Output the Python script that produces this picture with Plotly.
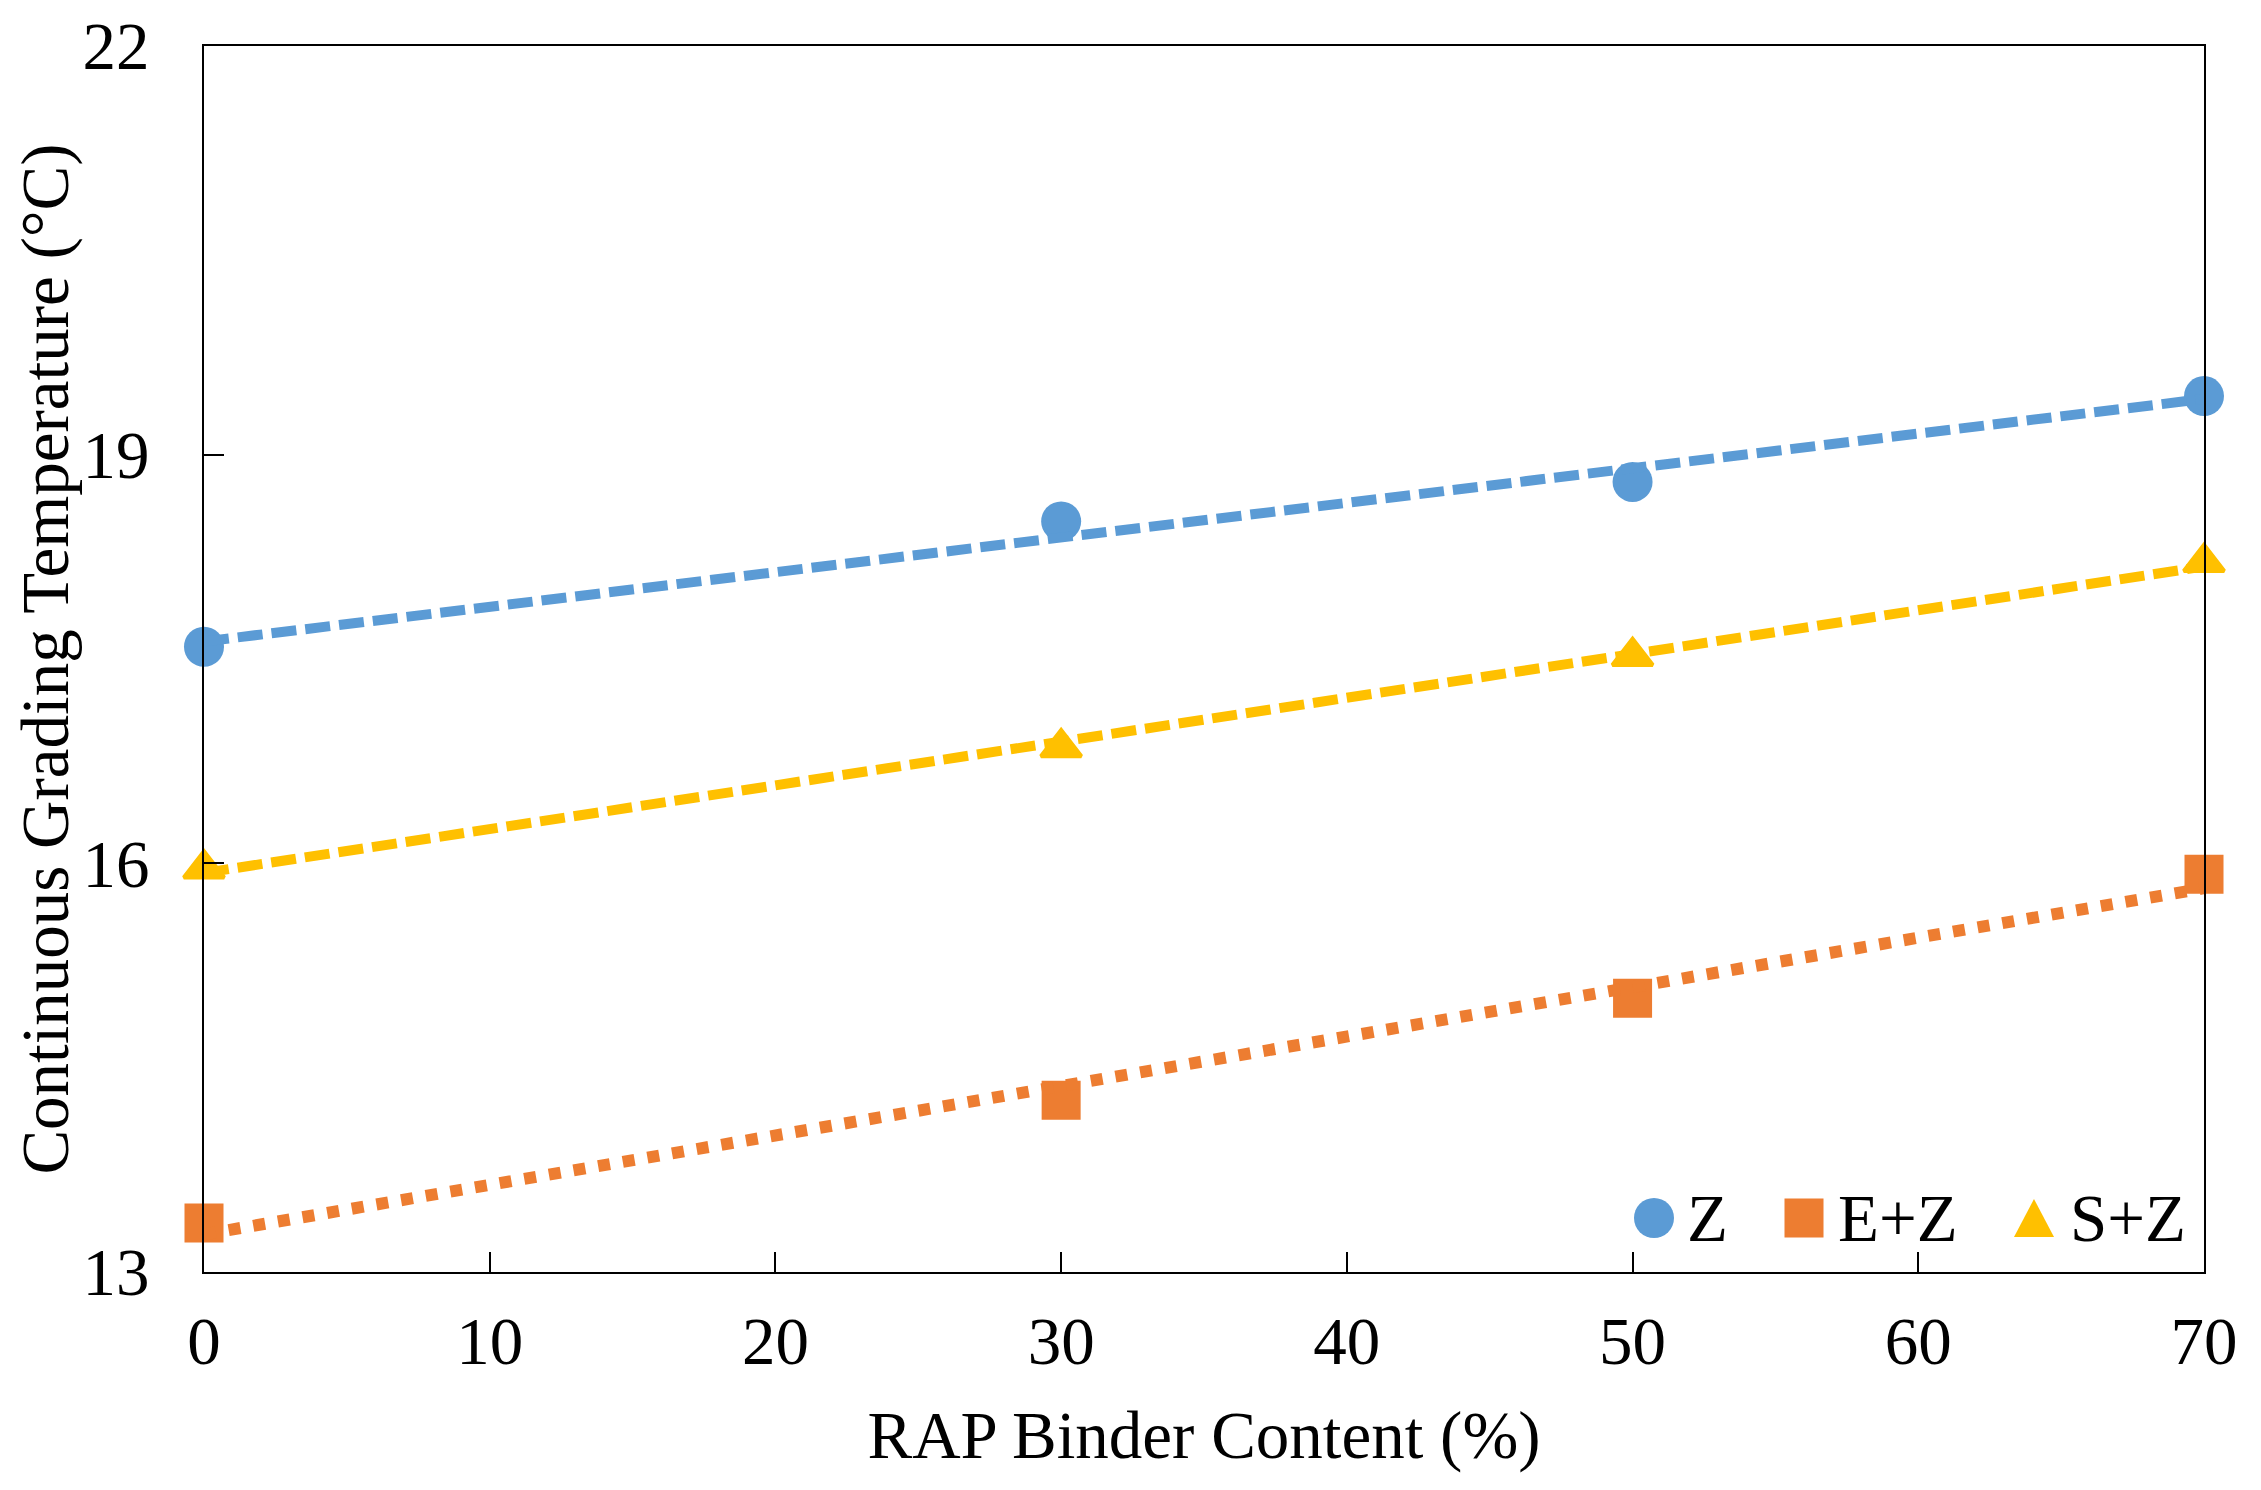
import numpy as np
import plotly.graph_objects as go

# ---- data ----
rap_content = [0, 30, 50, 70]
z_vals = [17.59, 18.51, 18.80, 19.43]
ez_vals = [13.36, 14.26, 15.01, 15.92]
sz_vals = [15.96, 16.85, 17.52, 18.21]
series_names = ["Z", "E+Z", "S+Z"]
x_ticks = [0, 10, 20, 30, 40, 50, 60, 70]
y_ticks = [13, 16, 19, 22]

BLUE = "#5B9BD5"
ORANGE = "#ED7D31"
YELLOW = "#FFC000"
FONT = "Liberation Serif, Times New Roman, serif"
FS = 67

# page body has an 8px margin, so the figure is shrunk and shifted accordingly
OFF = 8
W, H = 2261 - 2 * OFF, 1490 - 2 * OFF
ML, MT = 204 - OFF, 46 - OFF
PW, PH = 2000, 1226
MR = W - ML - PW
MB = H - MT - PH

fig = go.Figure()

series = [
    (series_names[0], z_vals, BLUE, "circle", 40, "25px,9px", 10),
    (series_names[1], ez_vals, ORANGE, "square", 39, "12px,13px", 12),
    (series_names[2], sz_vals, YELLOW, "triangle-up", 35, "25px,9px", 10),
]

# markers
for name, vals, col, sym, size, dash, lw in series:
    fig.add_trace(go.Scatter(
        x=rap_content, y=vals, mode="markers", name=name,
        marker=dict(symbol=sym, size=size, color=col,
                    line=dict(width=4 if sym == "triangle-up" else 0, color=col)),
        cliponaxis=False, showlegend=False))

# linear trendlines (least squares from the data)
xa = np.array(rap_content, dtype=float)
xt = np.array([xa.min(), xa.max()])
for name, vals, col, sym, size, dash, lw in series:
    k, b = np.polyfit(xa, np.array(vals, dtype=float), 1)
    fig.add_trace(go.Scatter(
        x=xt, y=k * xt + b, mode="lines", name=name + " trend",
        line=dict(color=col, width=lw, dash=dash),
        cliponaxis=False, showlegend=False, hoverinfo="skip"))

# custom legend (bottom-right inside plot); positions given in page pixels
def px_x(p):
    return (p - 204) / PW
def px_y(p):
    return (1272 - p) / PH

leg_y = px_y(1218)
sym_x = [px_x(1654), px_x(1804), px_x(2034)]
txt_x = [px_x(1685), px_x(1836), px_x(2068)]
shapes = [
    dict(type="circle", xref="paper", yref="paper",
         xsizemode="pixel", ysizemode="pixel",
         xanchor=sym_x[0], yanchor=leg_y,
         x0=-20, x1=20, y0=-20, y1=20,
         fillcolor=BLUE, line=dict(width=0)),
    dict(type="rect", xref="paper", yref="paper",
         xsizemode="pixel", ysizemode="pixel",
         xanchor=sym_x[1], yanchor=leg_y,
         x0=-19.5, x1=19.5, y0=-19.5, y1=19.5,
         fillcolor=ORANGE, line=dict(width=0)),
    dict(type="path", xref="paper", yref="paper",
         xsizemode="pixel", ysizemode="pixel",
         xanchor=sym_x[2], yanchor=leg_y,
         path="M -20,-19 L 20,-19 L 0,19 Z",
         fillcolor=YELLOW, line=dict(width=0)),
]
annotations = []
for i, nm in enumerate(series_names):
    annotations.append(dict(text=nm, x=txt_x[i], y=leg_y, xref="paper", yref="paper",
                            xanchor="left", yanchor="middle", showarrow=False,
                            font=dict(family=FONT, size=FS, color="black")))

fig.update_layout(
    width=W, height=H,
    margin=dict(l=ML, r=MR, t=MT, b=MB, autoexpand=False),
    paper_bgcolor="white", plot_bgcolor="white",
    font=dict(family=FONT, size=FS, color="black"),
    shapes=shapes, annotations=annotations,
    showlegend=False,
)
fig.update_xaxes(
    range=[0, 70], tickvals=x_ticks, ticktext=[str(v) for v in x_ticks],
    ticks="inside", ticklen=20, tickwidth=2, tickcolor="black",
    showline=True, linecolor="black", linewidth=2, mirror=True,
    showgrid=False, zeroline=False, automargin=False,
    ticklabelstandoff=10,
    tickfont=dict(family=FONT, size=FS, color="black"),
    title=dict(text="RAP Binder Content (%)", standoff=34,
               font=dict(family=FONT, size=FS, color="black")),
)
fig.update_yaxes(
    range=[13, 22], tickvals=y_ticks, ticktext=[str(v) for v in y_ticks],
    ticks="inside", ticklen=20, tickwidth=2, tickcolor="black",
    showline=True, linecolor="black", linewidth=2, mirror=True,
    showgrid=False, zeroline=False, automargin=False,
    ticklabelstandoff=39,
    tickfont=dict(family=FONT, size=FS, color="black"),
    title=dict(text="Continuous Grading Temperature (°C)", standoff=12,
               font=dict(family=FONT, size=FS, color="black")),
)

fig.write_html("out.html")
